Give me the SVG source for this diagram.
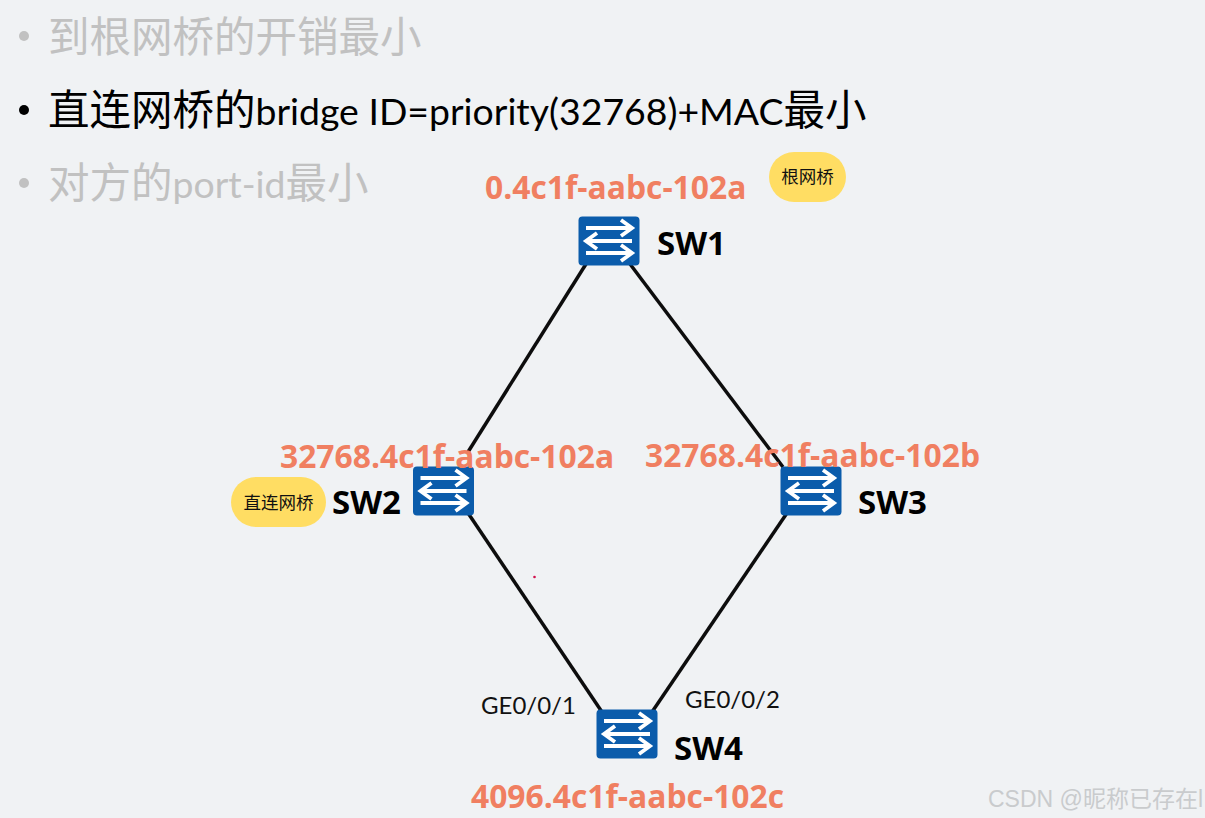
<svg xmlns="http://www.w3.org/2000/svg" width="1205" height="818" viewBox="0 0 1205 818">
<style>
.h{font-family:"Lato","Noto Sans CJK SC",sans-serif;font-size:37.400px}
.c{font-family:"Noto Sans CJK SC",sans-serif;font-size:41.500px}
.g{fill:#c1c1c1}
.k{fill:#000}
.sw{font-family:"Open Sans","Noto Sans",sans-serif;font-weight:700;font-size:33px;fill:#000}
.id{font-family:"Open Sans","Noto Sans",sans-serif;font-weight:700;font-size:31.800px;fill:#f07f61}
.p{font-family:"Lato","Noto Sans",sans-serif;font-size:24px;fill:#111}
.t{font-family:"Noto Sans CJK SC",sans-serif;font-size:17.500px;fill:#111;text-anchor:middle}
.b{fill:#ffdd63}
.l{stroke:#0d0d0d;stroke-width:3.500;fill:none}
.a{stroke:#fff;stroke-width:3.800;fill:none}
</style>
<defs>
<g id="swi">
<rect x="-30.500" y="-24.500" width="61" height="49" rx="4" fill="#0b5cab"/>
<path class="a" d="M-23-13H22M12-21L23-13L12-5M23 0H-22M-12-8L-23 0L-12 8M-23 12H22M12 4L23 12L12 20"/>
</g>
</defs>
<rect width="1205" height="818" fill="#f0f2f4"/>
<g id="connectors">
<path class="l" d="M586 264L468 452"/>
<path class="l" d="M630 264L783 467"/>
<path class="l" d="M468 513L602 712"/>
<path class="l" d="M787 513L652 712"/>
</g>
<g id="bullets">
<circle cx="24" cy="36" r="5" class="g"/>
<text x="48" y="52" class="c g">到根网桥的开销最小</text>
<circle cx="24" cy="110" r="5" class="k"/>
<text x="48" y="125" class="h k"><tspan class="c">直连网桥的</tspan>bridge ID=priority(32768)+MAC<tspan class="c">最小</tspan></text>
<circle cx="24" cy="183" r="5" class="g"/>
<text x="48" y="198" class="h g"><tspan class="c">对方的</tspan>port-id<tspan class="c">最小</tspan></text>
</g>
<g id="sw1">
<use href="#swi" x="609" y="241"/>
<text x="657" y="255" class="sw">SW1</text>
<text x="485" y="199" class="id">0.4c1f-aabc-102a</text>
</g>
<g id="root-tag">
<rect x="769" y="152" width="77" height="50" rx="25" class="b"/>
<text x="807.500" y="183" class="t">根网桥</text>
</g>
<g id="sw2">
<use href="#swi" x="443.500" y="491"/>
<text x="332" y="514" class="sw">SW2</text>
<text x="280" y="468" class="id">32768.4c1f-aabc-102a</text>
</g>
<g id="direct-tag">
<rect x="231" y="477" width="95" height="50" rx="25" class="b"/>
<text x="278.500" y="509" class="t">直连网桥</text>
</g>
<g id="sw3">
<use href="#swi" x="811" y="491"/>
<text x="858" y="514" class="sw">SW3</text>
<text x="645" y="467" class="id">32768.4c1f-aabc-102b</text>
</g>
<g id="sw4">
<use href="#swi" x="627" y="734"/>
<text x="674" y="760" class="sw">SW4</text>
<text x="471" y="808" class="id">4096.4c1f-aabc-102c</text>
<text x="481" y="714" class="p">GE0/0/1</text>
<text x="685" y="708" class="p">GE0/0/2</text>
</g>
<circle cx="534.500" cy="577" r="1.300" fill="#d0104c"/>
<text x="988" y="807" font-family="'Liberation Sans','Noto Sans CJK SC',sans-serif" font-size="23" fill="#c9cbcd">CSDN @昵称已存在l</text>
</svg>
